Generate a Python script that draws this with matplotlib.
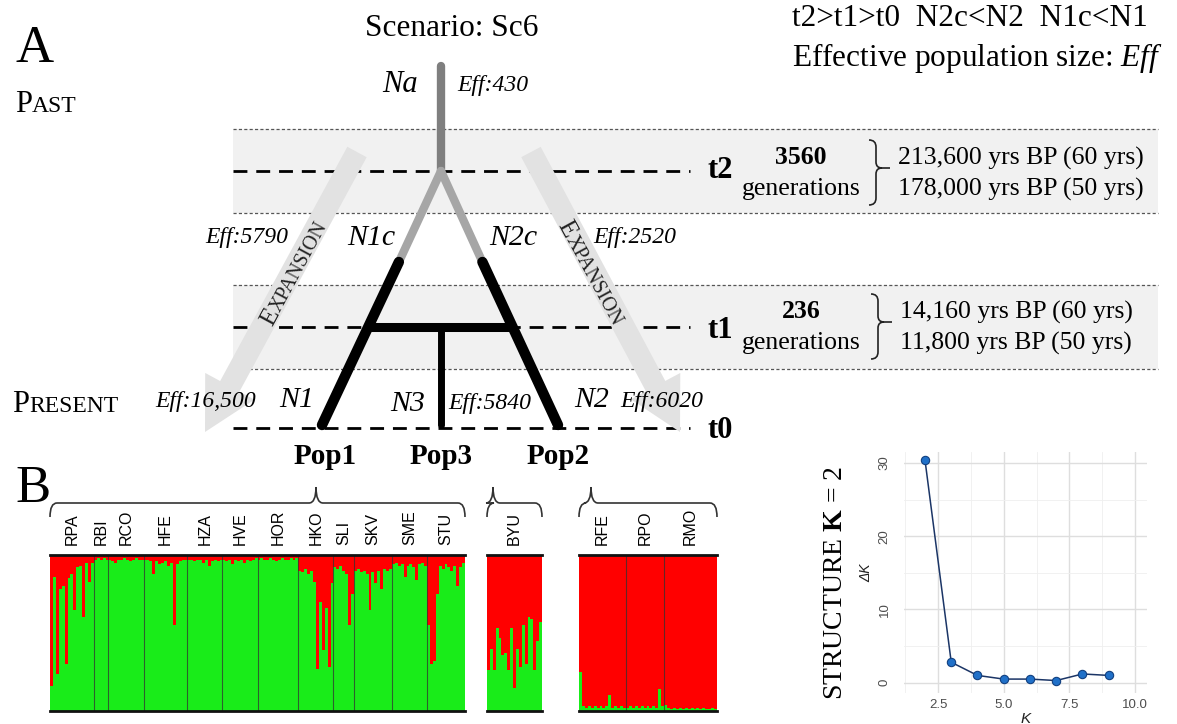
import numpy as np
import matplotlib.pyplot as plt
from matplotlib.path import Path
from matplotlib.patches import PathPatch

plt.rcParams['font.family'] = ['Liberation Serif', 'DejaVu Serif']
plt.rcParams['mathtext.fontset'] = 'custom'
plt.rcParams['mathtext.rm'] = 'Liberation Serif'
plt.rcParams['mathtext.it'] = 'Liberation Serif:italic'
plt.rcParams['mathtext.bf'] = 'Liberation Serif:bold'

# ---------------- data ----------------
scenario = 'Sc6'
eff_na, eff_n1c, eff_n2c = 430, 5790, 2520
eff_n1, eff_n3, eff_n2 = 16500, 5840, 6020
gen_t2, gen_t1 = 3560, 236
gen_times = [60, 50]
tree_pops = ['Pop1', 'Pop3', 'Pop2']

# STRUCTURE K=2 membership (fraction of red cluster), per individual
q_RPA = [0.84, 0.14, 0.76, 0.22, 0.20, 0.70, 0.15, 0.12, 0.35, 0.08, 0.07, 0.40, 0.05, 0.17, 0.05]
q_RBI = [0.03, 0.02, 0.03, 0.02, 0.03]
q_RCO = [0.03, 0.04, 0.05, 0.03, 0.03, 0.02, 0.03, 0.04, 0.03, 0.02, 0.03, 0.03]
q_HFE = [0.03, 0.03, 0.04, 0.12, 0.04, 0.06, 0.05, 0.04, 0.07, 0.05, 0.45, 0.06, 0.04, 0.03, 0.03]
q_HZA = [0.03, 0.03, 0.04, 0.03, 0.03, 0.05, 0.03, 0.07, 0.04, 0.03, 0.04, 0.03]
q_HVE = [0.03, 0.04, 0.03, 0.06, 0.03, 0.04, 0.03, 0.05, 0.03, 0.04, 0.03, 0.02]
q_HOR = [0.03, 0.02, 0.03, 0.03, 0.02, 0.03, 0.04, 0.03, 0.02, 0.03, 0.03, 0.02, 0.03, 0.02]
q_HKO = [0.10, 0.11, 0.09, 0.12, 0.10, 0.17, 0.73, 0.30, 0.61, 0.34, 0.72, 0.18]
q_SLI = [0.08, 0.09, 0.07, 0.10, 0.12, 0.45, 0.25]
q_SKV = [0.10, 0.09, 0.11, 0.10, 0.12, 0.35, 0.11, 0.18, 0.10, 0.22, 0.09, 0.10, 0.09]
q_SME = [0.06, 0.05, 0.07, 0.06, 0.14, 0.07, 0.06, 0.08, 0.16, 0.06, 0.05, 0.07]
q_STU = [0.45, 0.70, 0.68, 0.25, 0.07, 0.09, 0.06, 0.08, 0.10, 0.07, 0.20, 0.08, 0.05]
q_BYU = [0.74, 0.60, 0.74, 0.47, 0.53, 0.64, 0.63, 0.74, 0.47, 0.85, 0.60, 0.72, 0.45, 0.70,
         0.40, 0.41, 0.74, 0.55, 0.43]
q_RFE = [0.75, 0.97, 0.98, 0.97, 0.98, 0.97, 0.98, 0.97, 0.98, 0.97, 0.90, 0.98, 0.97, 0.98, 0.97, 0.98]
q_RPO = [0.98, 0.97, 0.98, 0.97, 0.98, 0.97, 0.98, 0.97, 0.98, 0.97, 0.98, 0.86, 0.97]
q_RMO = [0.96, 0.98, 0.99, 0.98, 0.99, 0.98, 0.99, 0.98, 0.99, 0.98, 0.99, 0.98, 0.99, 0.98,
         0.99, 0.99, 0.98, 0.99]

group1_names = ['RPA', 'RBI', 'RCO', 'HFE', 'HZA', 'HVE', 'HOR', 'HKO', 'SLI', 'SKV', 'SME', 'STU']
group1_q = [q_RPA, q_RBI, q_RCO, q_HFE, q_HZA, q_HVE, q_HOR, q_HKO, q_SLI, q_SKV, q_SME, q_STU]
group3_names = ['BYU']
group3_q = [q_BYU]
group2_names = ['RFE', 'RPO', 'RMO']
group2_q = [q_RFE, q_RPO, q_RMO]

# Evanno delta K
k_vals = [2, 3, 4, 5, 6, 7, 8, 9]
delta_k = [30.4, 2.8, 1.0, 0.5, 0.5, 0.3, 1.2, 1.0]

# ---------------- figure ----------------
W, H = 1177, 724
fig = plt.figure(figsize=(W / 100, H / 100), dpi=100)
ax = fig.add_axes([0, 0, 1, 1])
ax.set_xlim(0, W)
ax.set_ylim(H, 0)
ax.axis('off')


def rect(x0, y0, x1, y1):
    return [x0 / W, 1 - y1 / H, (x1 - x0) / W, (y1 - y0) / H]


renderer = fig.canvas.get_renderer()


def small_caps(x, y, word, big, small, angle=0.0, centered=False, **kw):
    a = np.radians(angle)
    d = np.array([np.cos(a), -np.sin(a)])
    u = np.array([-np.sin(a), -np.cos(a)])
    t1 = ax.text(0, 0, word[0], fontsize=big, rotation=angle, rotation_mode='anchor',
                 ha='left', va='baseline', **kw)
    t2 = ax.text(0, 0, word[1:], fontsize=small, rotation=angle, rotation_mode='anchor',
                 ha='left', va='baseline', **kw)
    w1 = ax.text(0, 0, word[0], fontsize=big).get_window_extent(renderer).width
    w2 = ax.text(0, 0, word[1:], fontsize=small).get_window_extent(renderer).width
    for t in ax.texts[-2:]:
        t.remove()
    cap = 0.66 * small * 100 / 72
    p = np.array([x, y], float)
    if centered:
        p = p - (w1 + w2) / 2 * d
    p = p - cap / 2 * u
    t1.set_position(p)
    t2.set_position(p + w1 * d)


# time levels (pixel rows of the schematic)
y_t2, y_t1, y_t0 = 171, 327, 428
x_left, x_dash_end, x_band_end = 233, 690, 1158
x_root = 441

# shaded bands + dotted edges
for top, bot in [(129, 213), (285, 369)]:
    ax.fill_between([x_left, x_band_end], top, bot, color='#f1f1f1', lw=0, zorder=0)
    for yy in (top, bot):
        ax.plot([x_left, x_band_end], [yy, yy], color='#555555', lw=0.9,
                ls=(0, (2.5, 1.8)), zorder=1)

for yy in (y_t2, y_t1, y_t0):
    ax.plot([x_left, x_dash_end], [yy, yy], color='black', lw=2.0, ls=(0, (5, 3.2)), zorder=1)

# expansion arrows
arrow_kw = dict(width=22, head_width=56, head_length=52, length_includes_head=True,
                fc='#e2e2e2', ec='none', zorder=2)
ax.arrow(357, 152, 205 - 357, 432 - 152, **arrow_kw)
ax.arrow(531, 152, 680 - 531, 432 - 152, **arrow_kw)
ang = np.degrees(np.arctan2(432 - 152, 357 - 205))
small_caps(294, 273, 'EXPANSION', 18.5, 14.5, angle=ang, centered=True, color='#222222', zorder=3)
small_caps(591, 273, 'EXPANSION', 18.5, 14.5, angle=-ang, centered=True, color='#222222', zorder=3)

# tree
def branch_x(x_end, y):
    return x_root + (x_end - x_root) * (y - y_t2) / (y_t0 - y_t2)


x_p1, x_p2 = 322, 558
y_col = 262
ax.plot([x_root, x_root], [66, y_t2], color='#7f7f7f', lw=6, solid_capstyle='round', zorder=4)
for xe in (x_p1, x_p2):
    ax.plot([x_root, branch_x(xe, y_col)], [y_t2, y_col], color='#a6a6a6', lw=6,
            solid_capstyle='round', zorder=4)
    ax.plot([branch_x(xe, y_col), xe], [y_col, y_t0 - 3], color='black', lw=7.5,
            solid_capstyle='round', zorder=5)
ax.plot([branch_x(x_p1, y_t1), branch_x(x_p2, y_t1)], [y_t1, y_t1], color='black', lw=6.5,
        solid_capstyle='butt', zorder=5)
ax.plot([x_root, x_root], [y_t1, y_t0 - 3], color='black', lw=5, solid_capstyle='round', zorder=5)

# tree labels
it = dict(fontstyle='italic', va='center', zorder=6)
ax.text(400, 85, 'Na', fontsize=22, ha='center', **it)
ax.text(457, 85, f'Eff:{eff_na}', fontsize=17, ha='left', **it)
ax.text(205, 238, f'Eff:{eff_n1c}', fontsize=17, ha='left', **it)
ax.text(371, 238, 'N1c', fontsize=21.5, ha='center', **it)
ax.text(513, 238, 'N2c', fontsize=21.5, ha='center', **it)
ax.text(593, 238, f'Eff:{eff_n2c}', fontsize=17, ha='left', **it)
ax.text(155, 402, f'Eff:{eff_n1:,}', fontsize=17, ha='left', **it)
ax.text(297, 400, 'N1', fontsize=21.5, ha='center', **it)
ax.text(408, 404, 'N3', fontsize=21.5, ha='center', **it)
ax.text(448, 404, f'Eff:{eff_n3}', fontsize=17, ha='left', **it)
ax.text(592, 400, 'N2', fontsize=21.5, ha='center', **it)
ax.text(620, 402, f'Eff:{eff_n2}', fontsize=17, ha='left', **it)
for name, xp in zip(tree_pops, [x_p1 + 3, x_root, x_p2]):
    ax.text(xp, 456, name, fontsize=21, fontweight='bold', ha='center', va='center')

ax.text(15, 49, 'A', fontsize=38, ha='left', va='center')
ax.text(15, 489, 'B', fontsize=38, ha='left', va='center')
small_caps(15, 104, 'PAST', 22, 17)
small_caps(12, 404, 'PRESENT', 22, 17)

ax.text(452, 28, f'Scenario: {scenario}', fontsize=22.5, ha='center', va='center')
ax.text(792, 18, 't2>t1>t0  N2c<N2  N1c<N1', fontsize=22.5, ha='left', va='center')
ax.text(792, 58, 'Effective population size: $\\mathit{Eff}$', fontsize=22.5, ha='left', va='center')

# time labels
for lab, yy in [('t2', y_t2), ('t1', y_t1 + 3), ('t0', y_t0 + 2)]:
    ax.text(707, yy, lab, fontsize=22, fontweight='bold', ha='left', va='center', zorder=6)


def vbrace(x, y0, y1, ym, tip):
    verts = [(x - 7, y0), (x, y0), (x, y0 + 7), (x, ym - 6), (x, ym), (x + 6, ym), (tip, ym),
             (x + 6, ym), (x, ym), (x, ym + 6), (x, y1 - 7), (x, y1), (x - 7, y1)]
    codes = [Path.MOVETO, Path.CURVE3, Path.CURVE3, Path.LINETO, Path.CURVE3, Path.CURVE3,
             Path.LINETO, Path.MOVETO, Path.CURVE3, Path.CURVE3, Path.LINETO, Path.CURVE3,
             Path.CURVE3]
    ax.add_patch(PathPatch(Path(verts, codes), fc='none', ec='#222222', lw=1.2, zorder=6))


for gens, yc, bx in [(gen_t2, 174, 876), (gen_t1, 328, 878)]:
    ax.text(801, yc - 16, f'{gens}', fontsize=18.5, fontweight='bold', ha='center', va='center')
    ax.text(801, yc + 15, 'generations', fontsize=18.5, ha='center', va='center')
    vbrace(bx, yc - 34, yc + 31, yc - 6, bx + 14)
    for i, g in enumerate(gen_times):
        ax.text(bx + 22, yc - 16 + 31 * i, f'{gens * g:,} yrs BP ({g} yrs)', fontsize=18.5,
                ha='left', va='center')


# ---------------- STRUCTURE panels ----------------
RED, GREEN = '#ff0000', '#19ec19'


def hbrace(x0, x1, xp, y):
    verts = [(x0, y + 14), (x0, y), (x0 + 7, y), (xp - 7, y), (xp, y), (xp, y - 16),
             (xp, y - 16), (xp, y), (xp + 7, y), (x1 - 7, y), (x1, y), (x1, y + 14)]
    codes = [Path.MOVETO, Path.CURVE3, Path.CURVE3, Path.LINETO, Path.CURVE3, Path.CURVE3,
             Path.MOVETO, Path.CURVE3, Path.CURVE3, Path.LINETO, Path.CURVE3, Path.CURVE3]
    ax.add_patch(PathPatch(Path(verts, codes), fc='none', ec='#333333', lw=1.2, zorder=6))


def structure_panel(x0, x1, names, qs):
    sa = fig.add_axes(rect(x0, 555, x1, 711))
    sizes = [len(v) for v in qs]
    q = np.concatenate([np.asarray(v, float) for v in qs])
    n = len(q)
    xs = np.arange(n + 1)
    g = np.append(1 - q, 1 - q[-1])
    sa.fill_between(xs, 0, g, step='post', color=GREEN, lw=0)
    sa.fill_between(xs, g, 1, step='post', color=RED, lw=0)
    bounds = np.cumsum(sizes)
    for b in bounds[:-1]:
        sa.axvline(b, color='#333333', lw=0.8, alpha=0.75)
    sa.set_xlim(0, n)
    sa.set_ylim(0, 1)
    sa.set_yticks([])
    sa.set_xticks(bounds - np.array(sizes) / 2)
    sa.set_xticklabels(names, rotation=90, fontsize=11.5, family='Liberation Sans')
    sa.xaxis.tick_top()
    sa.tick_params(length=0, pad=7)
    for s in ('left', 'right'):
        sa.spines[s].set_visible(False)
    for s in ('top', 'bottom'):
        sa.spines[s].set_linewidth(2)
        sa.spines[s].set_color('#111111')
    return sa


structure_panel(50, 465, group1_names, group1_q)
structure_panel(487, 542, group3_names, group3_q)
structure_panel(579, 717, group2_names, group2_q)
hbrace(50, 465, 316, 503)
hbrace(487, 542, 493, 503)
hbrace(579, 717, 591, 503)

# ---------------- delta K plot ----------------
ak = fig.add_axes(rect(904, 452, 1147, 693))
ak.plot(k_vals, delta_k, color='#1b3566', lw=1.1, zorder=3)
ak.scatter(k_vals, delta_k, s=36, color='#2070c8', edgecolors='#124080', linewidths=0.8, zorder=4)
ak.set_xlim(1.2, 10.46)
ak.set_ylim(-1.4, 31.5)
ak.set_xticks([2.5, 5.0, 7.5, 10.0])
ak.set_xticklabels(['2.5', '5.0', '7.5', '10.0'])
ak.set_yticks([0, 10, 20, 30])
ak.set_xticks([1.25, 3.75, 6.25, 8.75], minor=True)
ak.set_yticks([5, 15, 25], minor=True)
ak.grid(which='major', color='#dedede', lw=1.0)
ak.grid(which='minor', color='#efefef', lw=0.6)
ak.set_axisbelow(True)
for s in ak.spines.values():
    s.set_visible(False)
ak.tick_params(which='both', length=0, labelsize=9.5, labelcolor='#4d4d4d')
ak.tick_params(axis='x', pad=4)
ak.tick_params(axis='y', pad=14)
for lbl in ak.get_xticklabels() + ak.get_yticklabels():
    lbl.set_family('Liberation Sans')
for lbl in ak.get_yticklabels():
    lbl.set_rotation(90)
    lbl.set_va('center')
    lbl.set_ha('center')
ak.set_xlabel('K', fontsize=11, fontstyle='italic', family='Liberation Sans', color='#222222',
              labelpad=1)
ak.set_ylabel('ΔK', fontsize=10, fontstyle='italic', family='Liberation Sans', color='#222222',
              labelpad=4)

ax.text(835, 583, 'STRUCTURE $\\mathbf{K}$ = 2', fontsize=20, rotation=90, ha='center',
        va='center')

fig.savefig('out.png', dpi=100)
